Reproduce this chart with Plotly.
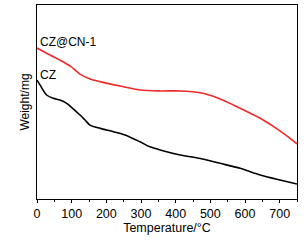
import plotly.graph_objects as go

temp_red = [0, 37.5, 66.4, 95.3, 124, 153, 182, 240, 297, 355, 413, 471, 520, 566, 644, 710, 750]
weight_red = [77.8, 74.2, 71.6, 68.6, 64.4, 61.9, 60.5, 58.2, 56.2, 55.7, 55.7, 54.8, 52.2, 48.5, 41.6, 34.0, 28.4]

temp_black = [0, 8.7, 27.7, 47, 66.4, 85.7, 95.3, 124, 138.6, 153, 182, 220.4, 254, 297, 326, 355, 413, 471, 528, 586, 644, 701, 750]
weight_black = [61.3, 58.8, 53.6, 51.9, 51.0, 49.3, 47.9, 43.3, 40.7, 38.1, 36.4, 34.7, 33.0, 29.5, 26.9, 25.3, 22.7, 20.9, 18.4, 15.8, 12.4, 9.8, 7.7]

series_labels = ["CZ@CN-1", "CZ"]
x_ticks = [0, 100, 200, 300, 400, 500, 600, 700]

font_family = "Liberation Sans, Arial, sans-serif"

fig = go.Figure()
fig.add_trace(go.Scatter(x=temp_red, y=weight_red, mode="lines",
                         line=dict(color="#ee2a2a", width=1.6, shape="spline", smoothing=0.8),
                         name=series_labels[0]))
fig.add_trace(go.Scatter(x=temp_black, y=weight_black, mode="lines",
                         line=dict(color="#000000", width=1.6, shape="spline", smoothing=0.8),
                         name=series_labels[1]))

fig.add_annotation(x=3, y=weight_red[0] + 3.2, text=series_labels[0], showarrow=False,
                   xanchor="left", yanchor="middle", font=dict(size=12, color="black", family=font_family))
fig.add_annotation(x=3, y=weight_black[0] + 2.6, text=series_labels[1], showarrow=False,
                   xanchor="left", yanchor="middle", font=dict(size=12, color="black", family=font_family))

fig.update_layout(
    width=306, height=240,
    margin=dict(l=37, r=9, t=5, b=41),
    paper_bgcolor="white", plot_bgcolor="white",
    showlegend=False,
    font=dict(family=font_family, size=12, color="black"),
    xaxis=dict(range=[0, 750], tickvals=x_ticks, ticks="outside", ticklen=3, tickwidth=1,
               tickcolor="black", showline=True, linecolor="black", linewidth=1, mirror=True,
               showgrid=False, zeroline=False, automargin=False,
               minor=dict(dtick=50, tick0=0, ticks="outside", ticklen=2, tickcolor="black", showgrid=False),
               title=dict(text="Temperature/°C", standoff=1, font=dict(size=12.5)),
               tickfont=dict(size=12.5)),
    yaxis=dict(range=[0, 100], showticklabels=False, ticks="", showline=True, linecolor="black",
               linewidth=1, mirror=True, showgrid=False, zeroline=False, automargin=False,
               title=dict(text="Weight/mg", standoff=3, font=dict(size=12))),
)

fig.write_html("out.html", config={"displayModeBar": False},
               post_script="document.body.style.margin='0';")
